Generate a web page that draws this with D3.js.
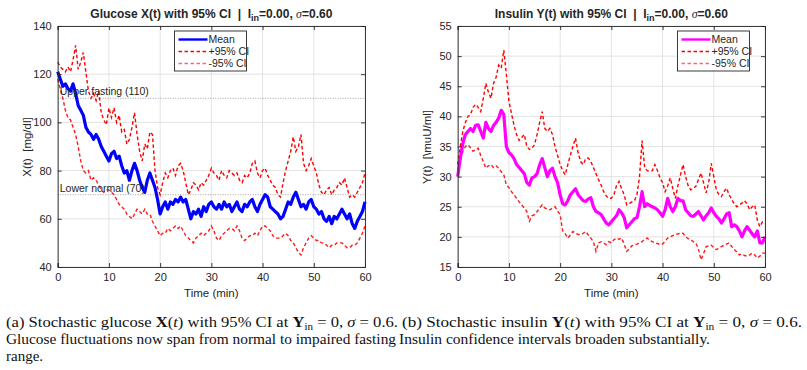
<!DOCTYPE html>
<html>
<head>
<meta charset="utf-8">
<script src="https://cdn.jsdelivr.net/npm/d3@7"></script>
<style>
  body { margin: 0; background: #fff; }
  svg text { font-family: "Liberation Sans", Arial, sans-serif; fill: #262626; }
  .caption text { font-family: "Liberation Serif", "Times New Roman", serif; fill: #111; }
</style>
</head>
<body>
<div id="fig"></div>
<script>
// sampling grid (minutes, every half minute)
var timeMin = d3.range(0, 60.25, 0.5);

// Glucose X(t) [mg/dl]
var glucoseMean = [
  121,118,115,116,114,113,116,112,107,105,
  103,98,96,95,93,95,93,90,88,86,
  84,87,88,85,86,82,79,80,76,80,
  83,80,76,73,71,76,79,76,73,68,
  62,65,67,64,67,66,68,67,69,67,
  68,64,60,63,62,64,61,65,63,66,
  67,65,64,66,64,67,65,66,63,65,
  67,64,63,66,65,67,68,65,63,66,
  68,70,69,65,64,63,62,60,61,64,
  67,66,69,71,68,65,66,64,67,68,
  65,64,62,63,60,59,61,58,61,60,
  62,64,62,60,62,58,56,59,61,63,
  67];
var glucoseUpper = [
  125,123,122,121,123,121,126,132,122,125,
  129,121,113,110,112,109,113,104,101,99,
  106,102,106,100,103,96,97,91,93,98,
  104,95,88,84,91,89,96,95,80,73,
  70,75,79,77,80,81,78,82,83,80,
  75,70,72,75,74,72,75,74,76,78,
  81,79,78,76,80,78,77,80,79,78,
  79,76,75,78,77,79,83,84,79,77,
  80,81,78,76,74,73,70,69,75,80,
  84,88,94,88,90,95,83,80,82,85,
  82,79,74,71,70,72,73,70,72,73,
  75,74,77,73,69,70,69,71,73,75,
  79];
var glucoseLower = [
  118,114,110,105,102,101,98,95,90,84,
  80,79,80,76,77,76,74,72,71,72,
  72,71,70,68,66,65,64,62,61,60,
  62,64,63,62,64,62,62,59,57,55,
  53,54,54,56,55,56,57,56,57,55,
  53,52,51,50,52,53,54,53,54,55,
  57,55,52,51,53,54,55,56,56,55,
  57,55,52,51,52,53,53,54,53,55,
  57,57,56,55,53,52,52,52,53,54,
  53,51,50,48,46,45,48,50,52,53,
  52,51,51,50,50,49,48,49,49,50,
  50,50,49,48,48,49,49,50,52,54,
  57];

// Insulin Y(t) [muU/ml]
var insulinMean = [
  30,33,35.5,37,37.5,38,37.5,38.5,38.6,37.5,
  36.4,39,38,37.5,38.5,39,39.7,41,40.3,35,
  34,33.6,33,32,31.5,31,30.5,29,28.6,29.8,
  30,30.5,32,33,31.5,30,31,31.4,30,29,
  27,25.5,25.3,26,27,27.5,28,27,26.5,26,
  25.9,26.3,26.5,25,24.2,24,23.7,23,22.3,22,
  22.5,23,23.5,24.5,24,23.2,21.5,22,22.5,23,
  23.2,25,27.5,25,25.5,25.2,25,24.8,24.5,24,
  23.4,24.5,26.4,25,24.2,25,26.4,26,26,24.5,
  24,23.5,23.4,23.8,24.2,23.5,22.8,23.5,24,24.8,
  24,23.4,23,22.3,23,23.8,24,21.7,22,21.7,
  21,20,21,21.7,21.1,20.5,20,21,19,19,
  20];
var insulinUpper = [
  32,35,37.5,39,40,40.3,41.5,42,41.5,40.8,
  43,45.5,44,43,45.5,46.5,48.5,48,51,47,
  42.5,40.5,38.5,37,36,36.5,37,35,34.5,34.7,
  35.3,37,39,40.8,38,37.5,38,37,35,33.5,
  32,31,30.3,32,33.6,35,36.4,34,32.5,32,
  33,33.1,32.5,31.5,30.5,29.5,28.6,27.5,26.8,26.4,
  26.4,27,28.5,29.2,28,27,25.3,25.5,25.8,26,
  27,30,36,31.5,31,30.9,31,32,31,29.8,
  29,27.5,28.5,29.8,28,26.4,28.5,30.3,32,30,
  28.5,27.8,28,28.4,29.5,30.6,29,27.3,29,32.2,
  30,27.8,27,26.7,27.5,28.1,27,26.2,25.5,25,
  25.3,25.6,26,25.5,24.5,25,25.3,22.8,21.7,22.5,
  22.3];
var insulinLower = [
  30.9,32.5,34.2,35,35.3,34.8,34.2,34.5,34.7,33.5,
  32.5,31.4,31.8,32,31.5,31.8,31.4,30.8,30.3,28.6,
  28.2,27.5,27,26.4,25.8,25.3,24.8,24.2,22.6,23.5,
  23.7,24.2,24.8,25.3,24.8,24.6,24.5,24.8,25,24.3,
  23.7,21,20.5,19.8,20.3,20.9,20.6,20.4,20.4,20.6,
  20.9,20.3,19.8,19.2,17.6,19,19.2,19,18.7,19.2,
  19,19.5,19.8,19.6,19.8,18.8,17.6,18,18.5,18.7,
  18.8,19,19.2,19.6,19.8,19.4,19.2,19,18.9,18.7,
  18.8,19.3,19.8,20,20.2,20.4,20.5,20.6,20.6,20,
  19.7,19.5,19.2,19,18,16.2,17.2,18.4,18.5,18.6,
  18.2,17.9,18.1,18.4,18.6,18.8,19,18.4,17.9,17.5,
  17,17.2,16.9,16.8,17,17.3,17,16.5,16.8,17.3,
  17.3];

// ticks and reference lines
var timeTicks = [0, 10, 20, 30, 40, 50, 60];
var glucoseTicks = [40, 60, 80, 100, 120, 140];
var insulinTicks = [15, 20, 25, 30, 35, 40, 45, 50, 55];
var glucoseRefs = [{v: 110, label: "Upper fasting (110)"}, {v: 70, label: "Lower normal (70)"}];
var legendLabels = ["Mean", "+95% CI", "-95% CI"];

var width = 807, height = 370;
var axisColor = "#262626";

var svg = d3.select("#fig").append("svg")
  .attr("width", width)
  .attr("height", height);

function drawPanel(p) {
  var x = d3.scaleLinear().domain([0, 60]).range([p.left, p.left + 307.3]);
  var y = d3.scaleLinear().domain(p.yDomain).range([267, 26]);
  var g = svg.append("g");

  // grid
  g.selectAll(".gx").data(timeTicks).enter().append("line")
    .attr("x1", d => x(d)).attr("x2", d => x(d))
    .attr("y1", y.range()[0]).attr("y2", y.range()[1])
    .attr("stroke", "#e3e3e3").attr("stroke-width", 1);
  g.selectAll(".gy").data(p.yTicks).enter().append("line")
    .attr("x1", x.range()[0]).attr("x2", x.range()[1])
    .attr("y1", d => y(d)).attr("y2", d => y(d))
    .attr("stroke", "#e3e3e3").attr("stroke-width", 1);

  // reference lines (glucose only)
  (p.refs || []).forEach(function(r) {
    g.append("line")
      .attr("x1", x.range()[0]).attr("x2", x.range()[1])
      .attr("y1", y(r.v)).attr("y2", y(r.v))
      .attr("stroke", "#8a8a8a").attr("stroke-width", 0.8)
      .attr("stroke-dasharray", "1,1.5");
  });

  var line = d3.line()
    .x((d, i) => x(timeMin[i]))
    .y(d => y(d));

  g.append("path").datum(p.upper)
    .attr("d", line).attr("fill", "none")
    .attr("stroke", "#ff0000").attr("stroke-width", 1.4)
    .attr("stroke-dasharray", "3.5,2.5");
  g.append("path").datum(p.lower)
    .attr("d", line).attr("fill", "none")
    .attr("stroke", "#ff1a1a").attr("stroke-width", 1.4)
    .attr("stroke-dasharray", "3.5,2.5");
  g.append("path").datum(p.mean)
    .attr("d", line).attr("fill", "none")
    .attr("stroke", p.meanColor).attr("stroke-width", 3.2)
    .attr("stroke-linejoin", "round");

  (p.refs || []).forEach(function(r) {
    g.append("text")
      .attr("x", x(0.4)).attr("y", y(r.v) - 3)
      .attr("font-size", 10.5)
      .text(r.label);
  });

  // axes box with inward ticks on all sides
  var bottom = d3.axisBottom(x).tickValues(timeTicks).tickSize(-4).tickPadding(6);
  var top = d3.axisTop(x).tickValues(timeTicks).tickSize(-4).tickFormat("");
  var leftAx = d3.axisLeft(y).tickValues(p.yTicks).tickSize(-4).tickPadding(6);
  var rightAx = d3.axisRight(y).tickValues(p.yTicks).tickSize(-4).tickFormat("");

  [[bottom, "translate(0," + y.range()[0] + ")"],
   [top, "translate(0," + y.range()[1] + ")"],
   [leftAx, "translate(" + x.range()[0] + ",0)"],
   [rightAx, "translate(" + x.range()[1] + ",0)"]].forEach(function(a) {
    var ax = g.append("g").attr("transform", a[1]).call(a[0]);
    ax.selectAll("path, line").attr("stroke", axisColor).attr("stroke-width", 0.9);
    ax.selectAll("text").attr("font-size", 11).attr("font-family", "Liberation Sans, Arial, sans-serif").attr("fill", axisColor);
  });

  // axis labels
  var cx = (x.range()[0] + x.range()[1]) / 2;
  g.append("text")
    .attr("x", cx).attr("y", 297)
    .attr("text-anchor", "middle").attr("font-size", 11.5)
    .text("Time (min)");
  g.append("text")
    .attr("transform", "translate(" + (x.range()[0] - 27) + "," + 147 + ") rotate(-90)")
    .attr("text-anchor", "middle").attr("font-size", 11.5)
    .attr("xml:space", "preserve")
    .text(p.yLabel);

  // title
  var t = g.append("text")
    .attr("x", cx).attr("y", 18)
    .attr("xml:space", "preserve")
    .attr("text-anchor", "middle").attr("font-size", 12).attr("font-weight", "bold");
  t.append("tspan").text(p.titleStart + " with 95% CI  |  I");
  t.append("tspan").attr("font-size", 9).attr("dy", 3).text("in");
  t.append("tspan").attr("dy", -3).text("=0.00, ");
  t.append("tspan").attr("font-family", "Liberation Serif, serif").attr("font-style", "italic").attr("font-weight", "normal").text("\u03c3");
  t.append("tspan").text("=0.60");

  // legend
  var lg = g.append("g").attr("transform", "translate(" + p.legendX + ",31)");
  lg.append("rect").attr("width", 72).attr("height", 40)
    .attr("fill", "#fff").attr("stroke", axisColor).attr("stroke-width", 0.9);
  var styles = [
    {color: p.meanColor, w: 2.4, dash: null, op: 1},
    {color: "#ff0000", w: 1.3, dash: "3.5,2.5", op: 1},
    {color: "#ff0000", w: 1.6, dash: "3.5,2.5", op: 0.6}
  ];
  lg.selectAll(".item").data(legendLabels).enter().append("g")
    .attr("transform", (d, i) => "translate(0," + (8.5 + i * 12) + ")")
    .each(function(d, i) {
      var s = styles[i];
      d3.select(this).append("line")
        .attr("x1", 4).attr("x2", 33).attr("y1", 0).attr("y2", 0)
        .style("stroke", s.color)
        .style("stroke-width", s.w)
        .style("stroke-dasharray", s.dash)
        .style("stroke-opacity", s.op);
      d3.select(this).append("text")
        .attr("x", 34).attr("y", 3.8).attr("font-size", 10.5).text(d);
    });
}

drawPanel({
  left: 57.7, yDomain: [40, 140], yTicks: glucoseTicks,
  mean: glucoseMean, upper: glucoseUpper, lower: glucoseLower,
  meanColor: "#0000ff", refs: glucoseRefs,
  yLabel: "X(t)  [mg/dl]", titleStart: "Glucose X(t)", legendX: 174.5
});
drawPanel({
  left: 457.7, yDomain: [15, 55], yTicks: insulinTicks,
  mean: insulinMean, upper: insulinUpper, lower: insulinLower,
  meanColor: "#ff00ff",
  yLabel: "Y(t)  [\\muU/ml]", titleStart: "Insulin Y(t)", legendX: 677.5
});

// caption (two sub-captions, LaTeX style)
var cap = svg.append("g").attr("class", "caption").attr("font-size", 15);

function capLine(xPos, yPos, parts, len) {
  var t = cap.append("text").attr("x", xPos).attr("y", yPos).attr("xml:space", "preserve");
  if (len) t.attr("textLength", len).attr("lengthAdjust", "spacingAndGlyphs");
  parts.forEach(function(q) {
    var s = t.append("tspan").text(q.s);
    if (q.b) s.attr("font-weight", "bold");
    if (q.i) s.attr("font-style", "italic");
    if (q.sub) s.attr("font-size", 10).attr("dy", 3);
    if (q.up) s.attr("dy", -3);
  });
}

capLine(6, 327, [
  {s: "(a) Stochastic glucose "}, {s: "X", b: 1}, {s: "("}, {s: "t", i: 1},
  {s: ") with 95% CI at "}, {s: "Y", b: 1}, {s: "in", sub: 1}, {s: " = 0, ", up: 1},
  {s: "\u03c3", i: 1}, {s: " = 0.6."}], 392);
capLine(6, 344, [{s: "Glucose fluctuations now span from normal to impaired fasting"}], 390);
capLine(6, 361, [{s: "range."}]);
capLine(402, 327, [
  {s: "(b) Stochastic insulin "}, {s: "Y", b: 1}, {s: "("}, {s: "t", i: 1},
  {s: ") with 95% CI at "}, {s: "Y", b: 1}, {s: "in", sub: 1}, {s: " = 0, ", up: 1},
  {s: "\u03c3", i: 1}, {s: " = 0.6."}], 400);
capLine(399, 344, [{s: "Insulin confidence intervals broaden substantially."}], 311);
</script>
</body>
</html>
